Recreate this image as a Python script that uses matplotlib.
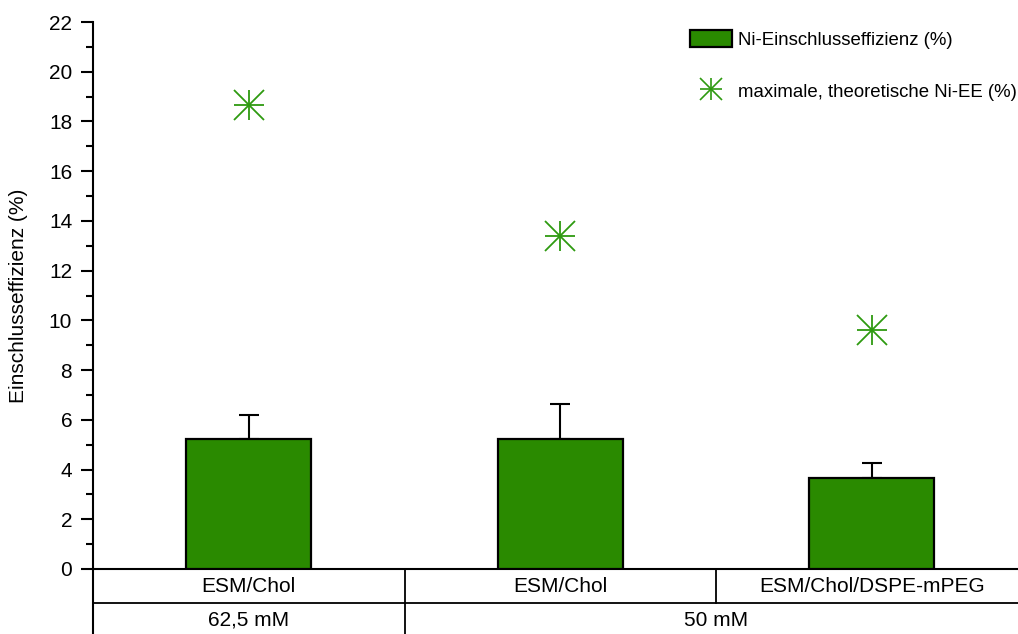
import matplotlib
matplotlib.use("Agg")
import matplotlib.pyplot as plt
from matplotlib.lines import Line2D
from matplotlib.patches import Patch
from matplotlib.legend_handler import HandlerTuple
import matplotlib.transforms as mtransforms

plt.rcParams['font.family'] = ['Liberation Sans', 'DejaVu Sans']

categories = ["ESM/Chol", "ESM/Chol", "ESM/Chol/DSPE-mPEG"]
concentrations = ["62,5 mM", "50 mM"]
conc_spans = [(0, 0), (1, 2)]
ee_values = [5.22, 5.22, 3.67]
ee_errors = [0.97, 1.42, 0.58]
max_ee_values = [18.65, 13.4, 9.63]
yticks_major = [0, 2, 4, 6, 8, 10, 12, 14, 16, 18, 20, 22]

bar_color = "#2a8a00"
star_color = "#2e9a10"

W, H = 1018, 634
fig = plt.figure(figsize=(W / 100, H / 100), dpi=100)
left, right, top, bottom = 93, 1018, 22, 569
ax = fig.add_axes([left / W, 1 - bottom / H, (right - left) / W, (bottom - top) / H])

x = list(range(len(categories)))
cat_w = 311.5  # pixel width of a category
ax.set_xlim(-0.5, -0.5 + (right - left) / cat_w)
ax.set_ylim(0, 22)

ax.bar(x, ee_values, width=0.4, color=bar_color, edgecolor="black",
       linewidth=1.6, zorder=3)
ax.errorbar(x, ee_values, yerr=[[0] * len(x), ee_errors], fmt="none",
            ecolor="black", elinewidth=1.5, capsize=7.5, capthick=1.5, zorder=2)
ax.plot(x, max_ee_values, linestyle="none", marker="+", ms=21, mew=1.3,
        color=star_color, zorder=4)
ax.plot(x, max_ee_values, linestyle="none", marker="x", ms=21, mew=1.3,
        color=star_color, zorder=4)

for s in ["top", "right"]:
    ax.spines[s].set_visible(False)
ax.spines["left"].set_linewidth(1.5)
ax.spines["bottom"].set_linewidth(1.5)
ax.set_yticks(yticks_major)
ax.set_yticks([v + 1 for v in yticks_major[:-1]], minor=True)
ax.tick_params(axis="y", which="major", length=9, width=1.5, labelsize=15, pad=6)
ax.tick_params(axis="y", which="minor", length=5, width=1.5)
ax.set_xticks([])
ax.set_ylabel("Einschlusseffizienz (%)", fontsize=15)
ax.yaxis.set_label_coords((18.5 - left) / (right - left), 0.5)
ax.yaxis.label.set_va("center")

# Category table below axis
tr = mtransforms.blended_transform_factory(ax.transData, fig.transFigure)
xmin, xmax = ax.get_xlim()
y_axis = 1 - bottom / H
y_row1 = 1 - 603 / H
y_end = 0.0
lw = 1.3
fig.add_artist(Line2D([xmin, xmin], [y_axis, y_end], transform=tr, color="black", lw=1.5))
fig.add_artist(Line2D([xmin, xmax], [y_row1, y_row1], transform=tr, color="black", lw=lw))
for i in range(1, len(categories)):
    fig.add_artist(Line2D([i - 0.5, i - 0.5], [y_axis, y_row1], transform=tr, color="black", lw=lw))
for (a, b) in conc_spans[1:]:
    fig.add_artist(Line2D([a - 0.5, a - 0.5], [y_row1, y_end], transform=tr, color="black", lw=lw))
for i, c in enumerate(categories):
    fig.text(i, 1 - 587 / H, c, transform=tr, ha="center", va="center", fontsize=15)
for lab, (a, b) in zip(concentrations, conc_spans):
    fig.text((a + b) / 2, 1 - 620 / H, lab, transform=tr, ha="center", va="center", fontsize=15)

# Legend
h1 = Patch(facecolor=bar_color, edgecolor="black", linewidth=1.6)
hp = Line2D([], [], linestyle="none", marker="+", ms=16.5, mew=1.2, color=star_color)
hx = Line2D([], [], linestyle="none", marker="x", ms=16.5, mew=1.2, color=star_color)
leg = fig.legend([h1, (hp, hx)],
                 ["Ni-Einschlusseffizienz (%)", "maximale, theoretische Ni-EE (%)"],
                 handler_map={tuple: HandlerTuple(ndivide=1)},
                 loc="upper left", bbox_to_anchor=(690 / W, 1 - 30 / H),
                 frameon=False, fontsize=13.4, handlelength=2.26, handleheight=1.0,
                 handletextpad=0.32, labelspacing=1.78, borderaxespad=0, borderpad=0)

fig.savefig("out.png", dpi=100)
